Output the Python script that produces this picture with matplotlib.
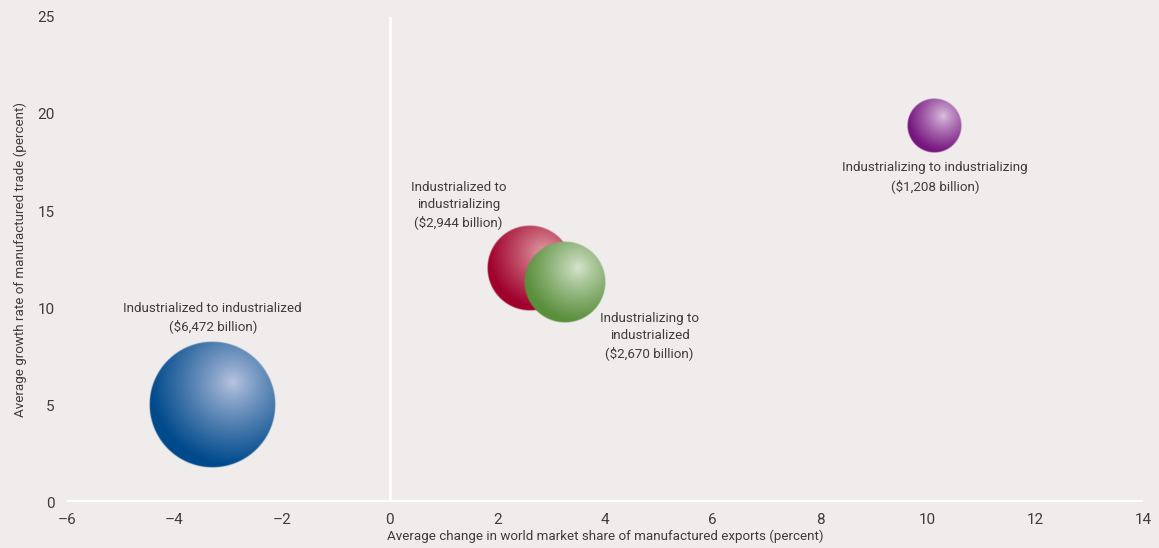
import numpy as np
import matplotlib

matplotlib.use("Agg")

import matplotlib.pyplot as plt
from matplotlib.colors import to_rgb

labels = [
    "Industrialized to industrialized\n($6,472 billion)",
    "Industrialized to\nindustrializing\n($2,944 billion)",
    "Industrializing to\nindustrialized\n($2,670 billion)",
    "Industrializing to industrializing\n($1,208 billion)",
]
trade_value = [6472, 2944, 2670, 1208]
share_change = [-3.29, 2.6, 3.25, 10.13]
growth_rate = [5.0, 12.05, 11.3, 19.4]
dark_colors = ["#004a8c", "#a0002c", "#5a8f3c", "#76157e"]
light_colors = ["#bcc6e2", "#e3a4aa", "#d8e6cf", "#dcc2e0"]
label_pos = [(-3.29, 9.5), (1.28, 15.3), (4.83, 8.55), (10.13, 16.75)]

BG = "#f0ecec"
TEXT = "#3c3c3c"

plt.rcParams["font.family"] = ["Roboto", "DejaVu Sans"]

fig = plt.figure(figsize=(11.59, 5.48), dpi=100, facecolor=BG)
ax = fig.add_axes([0.0578, 0.0839, 0.9284, 0.8851], facecolor=BG)
ax.set_xlim(-6, 14)
ax.set_ylim(0, 25)

# pixel scale of the axes, used to keep bubbles round
ax_w_px = fig.get_figwidth() * fig.dpi * 0.9284
ax_h_px = fig.get_figheight() * fig.dpi * 0.8851
px_x = ax_w_px / 20.0
px_y = ax_h_px / 25.0

for spine in ax.spines.values():
    spine.set_visible(False)
ax.axhline(0, color="white", lw=3, zorder=1)
ax.axvline(0, color="white", lw=2.2, zorder=1)

N = 300
yy, xx = np.mgrid[1:-1:N * 1j, -1:1:N * 1j]
d_edge = np.sqrt(xx ** 2 + yy ** 2)
d_hi = np.sqrt((xx - 0.32) ** 2 + (yy - 0.35) ** 2)

for i, val in enumerate(trade_value):
    r = np.sqrt(val * 0.62)
    cx, cy = share_change[i], growth_rate[i]
    dx, dy = r / px_x, r / px_y
    t = np.clip(d_hi / 1.3, 0, 1) ** 0.85
    light = np.array(to_rgb(light_colors[i]))
    dark = np.array(to_rgb(dark_colors[i]))
    img = np.zeros((N, N, 4))
    img[..., :3] = light * (1 - t[..., None]) + dark * t[..., None]
    img[..., 3] = np.clip((1 - d_edge) * r, 0, 1)
    ax.imshow(img, extent=(cx - dx, cx + dx, cy - dy, cy + dy),
              aspect="auto", interpolation="bilinear", zorder=2 + i)

for (lx, ly), txt in zip(label_pos, labels):
    ax.text(lx, ly, txt, ha="center", va="center", fontsize=9.6,
            color=TEXT, linespacing=1.4, zorder=10)

ax.set_xlim(-6, 14)
ax.set_ylim(0, 25)
ax.set_xticks(range(-6, 15, 2))
ax.set_xticklabels([str(v).replace("-", "\u2013") for v in range(-6, 15, 2)])
ax.set_yticks(range(0, 26, 5))
ax.tick_params(length=0, labelsize=11, colors=TEXT, pad=8)
ax.tick_params(axis="y", pad=9)
ax.set_xlabel("Average change in world market share of manufactured exports (percent)",
              fontsize=9.6, color=TEXT, labelpad=2)
ax.set_ylabel("Average growth rate of manufactured trade (percent)",
              fontsize=9.6, color=TEXT, labelpad=7)

fig.savefig("out.png", dpi=100, facecolor=BG)
